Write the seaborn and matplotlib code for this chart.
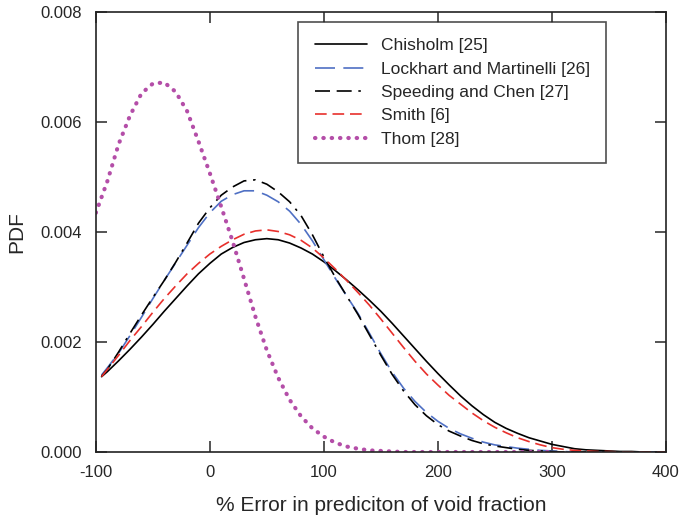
#! /usr/bin/env python3

import pandas as pd
import matplotlib
matplotlib.use('Agg')
import matplotlib.pyplot as plt
from matplotlib.ticker import FormatStrFormatter, MultipleLocator
import seaborn as sns

# % error grid shared by the four wide curves
x_err = [-95, -90, -80, -70, -60, -50, -40, -30, -20, -10, 0, 10, 20, 30, 40,
         50, 60, 70, 80, 90, 100, 110, 120, 130, 140, 150, 160, 170, 180,
         190, 200, 210, 220, 230, 240, 250, 260, 270, 280, 290, 300, 310,
         320, 330, 340, 350, 360, 370, 380, 390, 400]

chisholm = [0.00137, 0.00146, 0.00166, 0.00187, 0.00209, 0.00232, 0.00256,
            0.00279, 0.00302, 0.00324, 0.00343, 0.00360, 0.00372, 0.00381,
            0.00386, 0.00388, 0.00386, 0.00380, 0.00371, 0.00360, 0.00346,
            0.00330, 0.00313, 0.00295, 0.00276, 0.00256, 0.00234, 0.00211,
            0.00188, 0.00165, 0.00143, 0.00122, 0.00102, 0.00084, 0.00068,
            0.00054, 0.00043, 0.00034, 0.00026, 0.00020, 0.00014, 0.00010,
            0.00006, 0.00004, 0.00003, 0.00002, 0.00001, 0.00001, 0.0, 0.0,
            0.0]

lockhart = [0.00140, 0.00153, 0.00180, 0.00212, 0.00245, 0.00279, 0.00312,
            0.00344, 0.00376, 0.00408, 0.00435, 0.00456, 0.00468, 0.00475,
            0.00475, 0.00467, 0.00455, 0.00438, 0.00414, 0.00384, 0.00350,
            0.00316, 0.00284, 0.00252, 0.00216, 0.00179, 0.00145, 0.00116,
            0.00092, 0.00072, 0.00056, 0.00043, 0.00033, 0.00025, 0.00018,
            0.00013, 0.00010, 0.00007, 0.00005, 0.00003, 0.00002, 0.00001,
            0.0, 0.0, 0.0, 0.0, 0.0, 0.0, 0.0, 0.0, 0.0]

speeding = [0.00138, 0.00150, 0.00182, 0.00216, 0.00249, 0.00281, 0.00312,
            0.00345, 0.00380, 0.00416, 0.00444, 0.00467, 0.00482, 0.00493,
            0.00495, 0.00487, 0.00473, 0.00455, 0.00430, 0.00395, 0.00355,
            0.00318, 0.00284, 0.00250, 0.00213, 0.00176, 0.00141, 0.00111,
            0.00086, 0.00066, 0.00050, 0.00038, 0.00029, 0.00021, 0.00015,
            0.00011, 0.00008, 0.00005, 0.00003, 0.00002, 0.00001, 0.0, 0.0,
            0.0, 0.0, 0.0, 0.0, 0.0, 0.0, 0.0, 0.0]

smith = [0.00137, 0.00150, 0.00176, 0.00203, 0.00228, 0.00254, 0.00279,
         0.00302, 0.00324, 0.00343, 0.00360, 0.00374, 0.00386, 0.00396,
         0.00402, 0.00404, 0.00401, 0.00395, 0.00385, 0.00371, 0.00353,
         0.00333, 0.00312, 0.00290, 0.00267, 0.00242, 0.00216, 0.00190,
         0.00165, 0.00142, 0.00122, 0.00103, 0.00087, 0.00071, 0.00057,
         0.00045, 0.00035, 0.00026, 0.00019, 0.00013, 0.00008, 0.00005,
         0.00003, 0.00002, 0.00001, 0.00001, 0.0, 0.0, 0.0, 0.0, 0.0]

x_thom = [-100, -90, -80, -70, -60, -50, -40, -30, -20, -10, 0, 10, 20, 30,
          40, 50, 60, 70, 80, 90, 100, 110, 120, 130, 140, 150, 160, 170,
          180, 190, 200, 210, 220, 230, 240, 250, 260, 270, 280, 290, 300]
thom = [0.00435, 0.00492, 0.00560, 0.00612, 0.00652, 0.00670, 0.00672,
        0.00655, 0.00620, 0.00565, 0.00507, 0.00446, 0.00383, 0.00315,
        0.00246, 0.00185, 0.00135, 0.00095, 0.00065, 0.00043, 0.00028,
        0.00017, 0.00010, 0.00006, 0.00003, 0.00002, 0.00001, 0.0, 0.0,
        0.0, 0.0, 0.0, 0.0, 0.0, 0.0, 0.0, 0.0, 0.0, 0.0, 0.0, 0.0]

labels = ['Chisholm [25]', 'Lockhart and Martinelli [26]',
          'Speeding and Chen [27]', 'Smith [6]', 'Thom [28]']


def build_data() -> pd.DataFrame:
    frames = []
    for name, ys in zip(labels[:4], [chisholm, lockhart, speeding, smith]):
        frames.append(pd.DataFrame({'err': x_err, 'pdf': ys, 'model': name}))
    frames.append(pd.DataFrame({'err': x_thom, 'pdf': thom, 'model': labels[4]}))
    return pd.concat(frames, ignore_index=True)


if __name__ == '__main__':
    sns.set_style('ticks', {'xtick.direction': 'in', 'ytick.direction': 'in'})
    plt.rcParams['font.family'] = ['Liberation Sans', 'DejaVu Sans']
    plt.rcParams['axes.unicode_minus'] = False

    data = build_data()

    fig = plt.figure(figsize=(6.8, 5.25), dpi=100)
    ax = fig.add_axes([0.141, 0.139, 0.838, 0.838])

    styles = {
        labels[0]: dict(color='black', linestyle='-', linewidth=1.2),
        labels[1]: dict(color='#4f70c4', linestyle=(0, (12, 5)), linewidth=1.2),
        labels[2]: dict(color='black', linestyle=(0, (9, 4, 9, 4, 1.5, 4)), linewidth=1.2),
        labels[3]: dict(color='#e8302c', linestyle=(0, (7, 3.5)), linewidth=1.2),
        labels[4]: dict(color='#b44ea8', linestyle=(0, (0.1, 1.9)), linewidth=3.0,
                        dash_capstyle='round'),
    }
    for name in labels:
        sub = data[data['model'] == name]
        sns.lineplot(x='err', y='pdf', data=sub, ax=ax, label=name,
                     **styles[name])

    ax.set_xlim(-100, 400)
    ax.set_ylim(0, 0.008)
    ax.xaxis.set_major_locator(MultipleLocator(100))
    ax.yaxis.set_major_locator(MultipleLocator(0.002))
    ax.yaxis.set_major_formatter(FormatStrFormatter('%.3f'))
    ax.tick_params(which='both', top=True, right=True, direction='in',
                   length=8, width=1.1, labelsize=12)
    ax.tick_params(axis='x', pad=9)
    ax.tick_params(axis='y', pad=10)
    for s in ax.spines.values():
        s.set_linewidth(1.2)
        s.set_color('#222222')

    ax.set_xlabel('% Error in prediciton of void fraction', fontsize=15,
                  labelpad=12)
    ax.set_ylabel('PDF', fontsize=15, labelpad=10)

    leg = ax.legend(loc='upper left', bbox_to_anchor=(0.355, 0.978),
                    fontsize=12.5, frameon=True, fancybox=False,
                    handlelength=3.0, handletextpad=0.8, labelspacing=0.47,
                    borderpad=0.95, borderaxespad=0)
    leg.get_frame().set_edgecolor('#222222')
    leg.get_frame().set_linewidth(1.2)

    fig.savefig('out.png', dpi=100)
